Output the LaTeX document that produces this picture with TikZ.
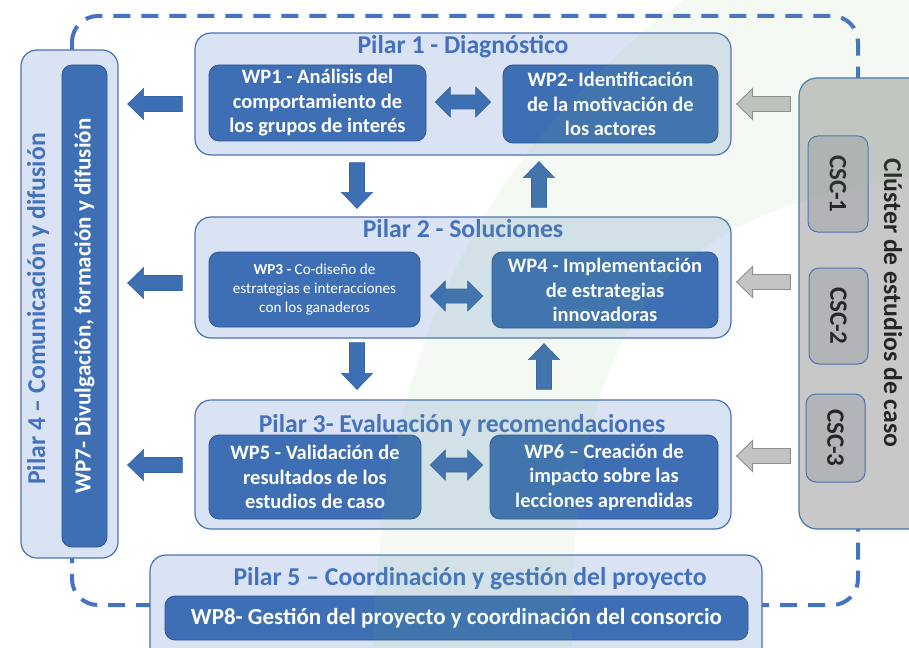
\documentclass[tikz,border=0pt]{standalone}
\usepackage{fontspec}
\setmainfont{Carlito}
\usepackage{tikz}
\usetikzlibrary{calc}
\definecolor{pilarfill}{HTML}{DAE3F3}
\definecolor{pilarline}{HTML}{4A72B2}
\definecolor{wpfill}{HTML}{3E6EB4}
\definecolor{wpline}{HTML}{2F5597}
\definecolor{titleblue}{HTML}{4471BE}
\definecolor{arrowfill}{HTML}{3F6FB3}
\definecolor{arrowline}{HTML}{3462A6}
\definecolor{grayfill}{HTML}{C3C3C3}
\definecolor{grayline}{HTML}{8F8F8F}
\definecolor{clusterfill}{HTML}{C8C8C8}
\definecolor{cscfill}{HTML}{B3B4B8}
\definecolor{darktext}{HTML}{262626}
\definecolor{dashblue}{HTML}{4472C4}
\definecolor{bandgreen}{HTML}{78BE64}

\begin{document}
\begin{tikzpicture}[x=1pt, y=-1pt,
    pilar/.style={draw=pilarline, fill=pilarfill, line width=1.2pt, rounded corners=16pt, inner sep=0pt},
    wp/.style={draw=wpline, fill=wpfill, line width=0.8pt, rounded corners=10pt, inner sep=0pt,
      text=white, align=center, font=\fontsize{20.5}{24.5}\selectfont\bfseries},
    pilartitle/.style={text=titleblue, anchor=base, inner sep=0pt, font=\fontsize{25.7}{30}\selectfont\bfseries},
    clusterbox/.style={draw=pilarline, fill=clusterfill, line width=1.2pt, rounded corners=18pt, inner sep=0pt},
    csc/.style={draw=pilarline, fill=cscfill, line width=1pt, rounded corners=10pt, inner sep=0pt,
      text=darktext, rotate=-90, font=\fontsize{25}{30}\selectfont\bfseries},
    dashbox/.style={draw=dashblue, line width=4pt, dash pattern=on 17pt off 11pt, rounded corners=26pt},
    blockarrow/.style 2 args={to path={
      let \p1=($(\tikztostart)!#1!(\tikztotarget)$),
          \p2=($(\tikztotarget)!#2!(\tikztostart)$),
          \p3=($(\p2)!16pt!(\p1)$) in
      ($(\p1)!7.5pt!90:(\p2)$) -- ($(\p3)!7.5pt!-90:(\p1)$) -- ($(\p3)!15.5pt!-90:(\p1)$)
      -- (\p2) -- ($(\p3)!15.5pt!90:(\p1)$) -- ($(\p3)!7.5pt!90:(\p1)$)
      -- ($(\p1)!7.5pt!-90:(\p2)$) -- cycle}},
    dblarrow/.style 2 args={fill=arrowfill, draw=arrowline, line width=0.6pt, to path={
      let \p1=($(\tikztostart)!#1!(\tikztotarget)$),
          \p2=($(\tikztotarget)!#2!(\tikztostart)$),
          \p3=($(\p1)!15pt!(\p2)$), \p4=($(\p2)!15pt!(\p1)$) in
      (\p1) -- ($(\p3)!15pt!90:(\p2)$) -- ($(\p3)!7pt!90:(\p2)$)
      -- ($(\p4)!7pt!-90:(\p1)$) -- ($(\p4)!15pt!-90:(\p1)$) -- (\p2)
      -- ($(\p4)!15pt!90:(\p1)$) -- ($(\p4)!7pt!90:(\p1)$)
      -- ($(\p3)!7pt!-90:(\p2)$) -- ($(\p3)!15pt!-90:(\p2)$) -- cycle}},
    bluearr/.style 2 args={blockarrow={#1}{#2}, fill=arrowfill, draw=arrowline, line width=0.6pt},
    grayarr/.style 2 args={blockarrow={#1}{#2}, fill=grayfill, draw=grayline, line width=0.9pt}]
    \clip (0,0) rectangle (909,647);
    % dashed frame behind the pillars
    \draw[dashbox] (72,16) rectangle (858,605);
    % Pilar 4
    \node[pilar, minimum width=97pt, minimum height=508pt] (p4) at (69.5,304) {};
    \node[pilartitle, rotate=90] (p4t) at (45,309) {Pilar 4 – Comunicación y difusión};
    \node[wp, rotate=90, minimum width=482pt, minimum height=45pt, font=\fontsize{23}{27}\selectfont\bfseries] (wp7) at (84.5,306) {WP7- Divulgación, formación y difusión};
    % Pilar 1
    \node[pilar, minimum width=536pt, minimum height=122pt] (p1) at (463,94) {};
    \node[pilartitle] (p1t) at (463,54) {Pilar 1 - Diagnóstico};
    \node[wp, minimum width=217pt, minimum height=76pt] (wp1) at (317.5,103) {WP1 - Análisis del\\comportamiento de\\los grupos de interés};
    \node[wp, minimum width=215pt, minimum height=78pt] (wp2) at (610.5,104) {WP2- Identificación\\de la motivación de\\los actores};
    % Pilar 2
    \node[pilar, minimum width=536pt, minimum height=121pt] (p2) at (463,277.5) {};
    \node[pilartitle] (p2t) at (463,237) {Pilar 2 - Soluciones};
    \node[wp, minimum width=211pt, minimum height=75pt, font=\fontsize{15.2}{19}\selectfont] (wp3) at (314.5,289.5) {\textbf{WP3 -} Co-diseño de\\estrategias e interacciones\\con los ganaderos};
    \node[wp, minimum width=226pt, minimum height=76pt] (wp4) at (605,290) {WP4 - Implementación\\de estrategias\\innovadoras};
    % Pilar 3
    \node[pilar, minimum width=536pt, minimum height=129pt] (p3) at (463,464.5) {};
    \node[pilartitle] (p3t) at (462,432) {Pilar 3- Evaluación y recomendaciones};
    \node[wp, minimum width=212pt, minimum height=84pt] (wp5) at (315,477) {WP5 - Validación de\\resultados de los\\estudios de caso};
    \node[wp, minimum width=228pt, minimum height=84pt] (wp6) at (604,477) {WP6 – Creación de\\impacto sobre las\\lecciones aprendidas};
    % Pilar 5
    \node[pilar, minimum width=612pt, minimum height=115pt] (p5) at (456,612.5) {};
    \node[pilartitle] (p5t) at (470,585) {Pilar 5 – Coordinación y gestión del proyecto};
    \node[wp, minimum width=583pt, minimum height=44pt, font=\fontsize{23}{27}\selectfont\bfseries] (wp8) at (456.5,618) {WP8- Gestión del proyecto y coordinación del consorcio};
    % cluster
    \node[clusterbox, minimum width=131pt, minimum height=451pt] (cl) at (864.5,303.5) {};
    \node[anchor=base, rotate=-90, inner sep=0pt, text=darktext, font=\fontsize{25.7}{30}\selectfont\bfseries] (clt) at (884,303) {Clúster de estudios de caso};
    \node[csc, minimum width=96pt, minimum height=60pt] (csc1) at (838,184) {CSC-1};
    \node[csc, minimum width=96pt, minimum height=59pt] (csc2) at (838.5,316) {CSC-2};
    \node[csc, minimum width=88pt, minimum height=59pt] (csc3) at (835.5,438) {CSC-3};
    % arrows towards Pilar 4
    \draw[bluearr={12pt}{9pt}] (p1.west |- 0,104) to (p4.east |- 0,104);
    \draw[bluearr={12pt}{9pt}] (p2.west |- 0,283) to (p4.east |- 0,283);
    \draw[bluearr={12pt}{9pt}] (p3.west |- 0,465) to (p4.east |- 0,465);
    % arrows inside the pillars
    \draw[dblarrow={9pt}{12pt}] (wp1.east |- 0,102) to (wp2.west |- 0,102);
    \draw[dblarrow={10pt}{9pt}] (wp3.east |- 0,296) to (wp4.west |- 0,296);
    \draw[dblarrow={9pt}{7pt}] (wp5.east |- 0,465) to (wp6.west |- 0,465);
    % arrows between the pillars
    \draw[bluearr={7pt}{8pt}] (p1.south -| 357,0) to (p2.north -| 357,0);
    \draw[bluearr={9pt}{6pt}] (p2.north -| 539,0) to (p1.south -| 539,0);
    \draw[bluearr={4pt}{10pt}] (p2.south -| 357,0) to (p3.north -| 357,0);
    \draw[bluearr={10pt}{5pt}] (p3.north -| 544,0) to (p2.south -| 544,0);
    % arrows from the cluster
    \draw[grayarr={8pt}{5pt}] (cl.west |- 0,104) to (p1.east |- 0,104);
    \draw[grayarr={8pt}{5pt}] (cl.west |- 0,282) to (p2.east |- 0,282);
    \draw[grayarr={8pt}{5pt}] (cl.west |- 0,456) to (p3.east |- 0,456);
    % faint green band
    \fill[bandgreen, opacity=0.08] (373,647) .. controls (380,380) and (460,170) .. (683,0)
      -- (909,0) -- (909,178) .. controls (660,215) and (570,320) .. (572,647) -- cycle;
\end{tikzpicture}
\end{document}
